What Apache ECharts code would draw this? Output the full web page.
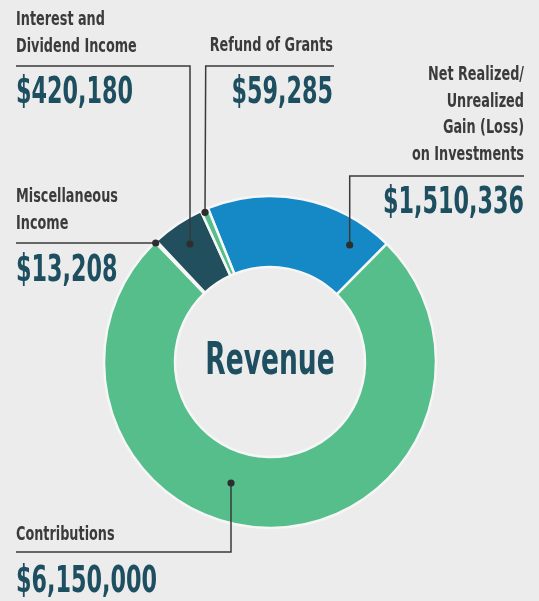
<!DOCTYPE html>
<html>
<head>
<meta charset="utf-8">
<script src="https://cdn.jsdelivr.net/npm/echarts@6/dist/echarts.min.js"></script>
<style>
html,body{margin:0;padding:0;background:#ececec;}
#c{width:539px;height:601px;}
</style>
</head>
<body>
<div id="c"></div>
<script>
// ---- data ----
var categories = ['Net Realized/\nUnrealized\nGain (Loss)\non Investments', 'Contributions', 'Miscellaneous\nIncome', 'Interest and\nDividend Income', 'Refund of Grants'];
var values = [1510336, 6150000, 13208, 420180, 59285];
var centerTitle = 'Revenue';

// ---- styling / layout (not data) ----
var colors = ['#1589c6', '#55be8a', '#55be8a', '#214f5e', '#55be8a'];
var FONT = '"DejaVu Sans Condensed", "Liberation Sans Narrow", sans-serif';
var NAME_COLOR = '#3b3b3b';
var VALUE_COLOR = '#1e4f60';
var LINE_COLOR = '#3a3a3a';
// annotation layout per slice: name anchor, value anchor, leader polyline (dot first)
var layout = [
  {align: 'right', nameX: 524, nameY: 75, valueX: 524, valueY: 203, line: [[349.7, 245], [349.7, 176], [524, 176]]},
  {align: 'left', nameX: 16, nameY: 535, valueX: 16, valueY: 582, line: [[231, 483], [231, 552], [16, 552]]},
  {align: 'left', nameX: 16, nameY: 197, valueX: 16, valueY: 271, line: [[155.7, 243], [16, 243]]},
  {align: 'left', nameX: 16, nameY: 20, valueX: 16, valueY: 93.5, line: [[190, 244], [190, 66], [16, 66]]},
  {align: 'right', nameX: 333, nameY: 46, valueX: 333, valueY: 93.5, line: [[205, 212.3], [205.7, 66], [334, 66]]}
];
var NAME_LH = 26.6;

function fmt(v) { return '$' + v.toLocaleString('en-US'); }

var chart = echarts.init(document.getElementById('c'), null, {renderer: 'canvas'});

var graphics = [];
categories.forEach(function (cat, i) {
  var L = layout[i];
  graphics.push({
    type: 'polyline', silent: true, z: 10,
    shape: {points: L.line},
    style: {stroke: LINE_COLOR, lineWidth: 1.5, fill: null}
  });
  graphics.push({
    type: 'circle', silent: true, z: 11,
    shape: {cx: L.line[0][0], cy: L.line[0][1], r: 3.6},
    style: {fill: '#2e2e2e'}
  });
  var lines = cat.split('\n');
  lines.forEach(function (t, k) {
    graphics.push({
      type: 'text', silent: true, z: 12,
      x: L.nameX, y: L.nameY + k * NAME_LH,
      scaleX: 0.75, scaleY: 1,
      style: {text: t, font: 'bold 19px ' + FONT, fill: NAME_COLOR, textAlign: L.align, textVerticalAlign: 'middle'}
    });
  });
  graphics.push({
    type: 'text', silent: true, z: 12,
    x: L.valueX, y: L.valueY,
    scaleX: 0.67, scaleY: 1,
    style: {text: fmt(values[i]), font: 'bold 37px ' + FONT, fill: VALUE_COLOR, textAlign: L.align, textVerticalAlign: 'middle'}
  });
});
graphics.push({
  type: 'text', silent: true, z: 12,
  x: 270, y: 363, scaleX: 0.67, scaleY: 1,
  style: {text: centerTitle, font: 'bold 44px ' + FONT, fill: VALUE_COLOR, textAlign: 'center', textVerticalAlign: 'middle'}
});

chart.setOption({
  backgroundColor: '#ececec',
  animation: false,
  series: [{
    type: 'pie',
    center: [270, 362],
    radius: [95, 166],
    startAngle: 112,
    clockwise: true,
    avoidLabelOverlap: false,
    label: {show: false},
    labelLine: {show: false},
    emphasis: {disabled: true},
    itemStyle: {borderColor: '#f6f6f6', borderWidth: 2.5},
    data: categories.map(function (c, i) {
      return {name: c, value: values[i], itemStyle: {color: colors[i]}};
    })
  }],
  graphic: graphics
});
</script>
</body>
</html>
